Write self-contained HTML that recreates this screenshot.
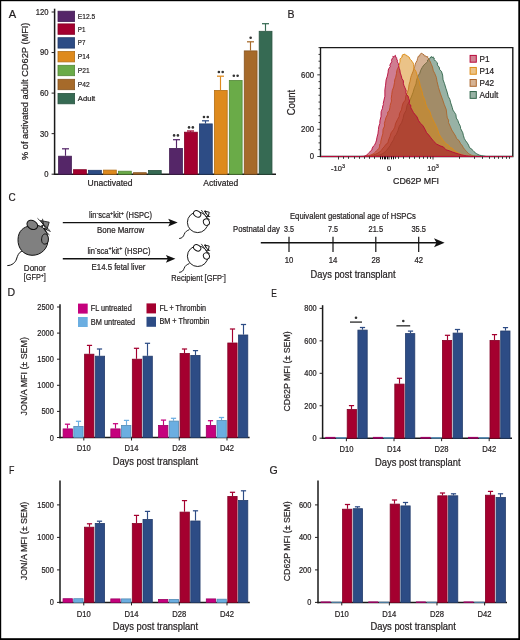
<!DOCTYPE html><html><head><meta charset="utf-8"><style>html,body{margin:0;padding:0;background:#fff;}svg{display:block;}</style></head><body>
<svg width="520" height="640" viewBox="0 0 520 640" font-family='"Liberation Sans", sans-serif' style="filter:grayscale(1%)">
<rect width="520" height="640" fill="#fff"/>
<g>
<text x="8.70" y="17.60" font-size="11.2" text-anchor="start" fill="#231f20" stroke="#231f20" stroke-width="0.22" textLength="7.40" lengthAdjust="spacingAndGlyphs" >A</text>
<line x1="54.60" y1="8.70" x2="54.60" y2="174.95" stroke="#1a1a1a" stroke-width="1.5" />
<line x1="53.85" y1="174.20" x2="276.00" y2="174.20" stroke="#1a1a1a" stroke-width="1.5" />
<line x1="51.60" y1="174.20" x2="54.60" y2="174.20" stroke="#231f20" stroke-width="1.0" />
<text x="48.50" y="177.10" font-size="8.6" text-anchor="end" fill="#231f20" stroke="#231f20" stroke-width="0.22" textLength="4.25" lengthAdjust="spacingAndGlyphs" >0</text>
<line x1="51.60" y1="133.65" x2="54.60" y2="133.65" stroke="#231f20" stroke-width="1.0" />
<text x="48.50" y="136.55" font-size="8.6" text-anchor="end" fill="#231f20" stroke="#231f20" stroke-width="0.22" textLength="8.50" lengthAdjust="spacingAndGlyphs" >30</text>
<line x1="51.60" y1="93.10" x2="54.60" y2="93.10" stroke="#231f20" stroke-width="1.0" />
<text x="48.50" y="96.00" font-size="8.6" text-anchor="end" fill="#231f20" stroke="#231f20" stroke-width="0.22" textLength="8.50" lengthAdjust="spacingAndGlyphs" >60</text>
<line x1="51.60" y1="52.55" x2="54.60" y2="52.55" stroke="#231f20" stroke-width="1.0" />
<text x="48.50" y="55.45" font-size="8.6" text-anchor="end" fill="#231f20" stroke="#231f20" stroke-width="0.22" textLength="8.50" lengthAdjust="spacingAndGlyphs" >90</text>
<line x1="51.60" y1="12.00" x2="54.60" y2="12.00" stroke="#231f20" stroke-width="1.0" />
<text x="48.50" y="14.90" font-size="8.6" text-anchor="end" fill="#231f20" stroke="#231f20" stroke-width="0.22" textLength="12.75" lengthAdjust="spacingAndGlyphs" >120</text>
<text x="28.00" y="91.30" font-size="9" text-anchor="middle" fill="#231f20" stroke="#231f20" stroke-width="0.22" textLength="137.50" lengthAdjust="spacingAndGlyphs" transform="rotate(-90 28.00 91.30)" >% of activated adult CD62P (MFI)</text>
<rect x="58.00" y="11.20" width="16.60" height="10.40" fill="#552669" stroke="#441e54" stroke-width="0.8"/>
<text x="77.80" y="18.80" font-size="8.0" text-anchor="start" fill="#231f20" stroke="#231f20" stroke-width="0.22" textLength="17.40" lengthAdjust="spacingAndGlyphs" >E12.5</text>
<rect x="58.00" y="23.90" width="16.60" height="10.40" fill="#a5002f" stroke="#840025" stroke-width="0.8"/>
<text x="77.80" y="31.50" font-size="8.0" text-anchor="start" fill="#231f20" stroke="#231f20" stroke-width="0.22" textLength="7.60" lengthAdjust="spacingAndGlyphs" >P1</text>
<rect x="58.00" y="37.70" width="16.60" height="10.40" fill="#2d4c86" stroke="#243c6b" stroke-width="0.8"/>
<text x="77.80" y="45.30" font-size="8.0" text-anchor="start" fill="#231f20" stroke="#231f20" stroke-width="0.22" textLength="7.60" lengthAdjust="spacingAndGlyphs" >P7</text>
<rect x="58.00" y="51.50" width="16.60" height="10.40" fill="#df8a1c" stroke="#b26e16" stroke-width="0.8"/>
<text x="77.80" y="59.10" font-size="8.0" text-anchor="start" fill="#231f20" stroke="#231f20" stroke-width="0.22" textLength="11.80" lengthAdjust="spacingAndGlyphs" >P14</text>
<rect x="58.00" y="65.30" width="16.60" height="10.40" fill="#6aab47" stroke="#548838" stroke-width="0.8"/>
<text x="77.80" y="72.90" font-size="8.0" text-anchor="start" fill="#231f20" stroke="#231f20" stroke-width="0.22" textLength="11.80" lengthAdjust="spacingAndGlyphs" >P21</text>
<rect x="58.00" y="79.30" width="16.60" height="10.40" fill="#a76a29" stroke="#855420" stroke-width="0.8"/>
<text x="77.80" y="86.90" font-size="8.0" text-anchor="start" fill="#231f20" stroke="#231f20" stroke-width="0.22" textLength="11.80" lengthAdjust="spacingAndGlyphs" >P42</text>
<rect x="58.00" y="93.40" width="16.60" height="10.40" fill="#366a53" stroke="#2b5442" stroke-width="0.8"/>
<text x="77.80" y="101.00" font-size="8.0" text-anchor="start" fill="#231f20" stroke="#231f20" stroke-width="0.22" textLength="17.40" lengthAdjust="spacingAndGlyphs" >Adult</text>
<line x1="65.50" y1="155.80" x2="65.50" y2="148.80" stroke="#552669" stroke-width="1.15" />
<line x1="62.00" y1="148.80" x2="69.00" y2="148.80" stroke="#552669" stroke-width="1.25" />
<rect x="58.60" y="156.20" width="12.80" height="18.00" fill="#552669" stroke="#441e54" stroke-width="0.8"/>
<rect x="73.57" y="169.70" width="12.80" height="4.50" fill="#a5002f" stroke="#840025" stroke-width="0.8"/>
<rect x="88.54" y="170.30" width="12.80" height="3.90" fill="#2d4c86" stroke="#243c6b" stroke-width="0.8"/>
<rect x="103.51" y="170.10" width="12.80" height="4.10" fill="#df8a1c" stroke="#b26e16" stroke-width="0.8"/>
<rect x="118.48" y="171.20" width="12.80" height="3.00" fill="#6aab47" stroke="#548838" stroke-width="0.8"/>
<rect x="133.45" y="172.70" width="12.80" height="1.50" fill="#a76a29" stroke="#855420" stroke-width="0.8"/>
<rect x="148.42" y="170.40" width="12.80" height="3.80" fill="#366a53" stroke="#2b5442" stroke-width="0.8"/>
<line x1="176.50" y1="148.00" x2="176.50" y2="139.70" stroke="#552669" stroke-width="1.15" />
<line x1="173.00" y1="139.70" x2="180.00" y2="139.70" stroke="#552669" stroke-width="1.25" />
<rect x="169.60" y="148.40" width="12.80" height="25.80" fill="#552669" stroke="#441e54" stroke-width="0.8"/>
<circle cx="174.10" cy="135.40" r="1.3" fill="#333"/>
<circle cx="177.90" cy="135.40" r="1.3" fill="#333"/>
<line x1="190.50" y1="131.80" x2="190.50" y2="131.00" stroke="#a5002f" stroke-width="1.15" />
<line x1="187.00" y1="131.00" x2="194.00" y2="131.00" stroke="#a5002f" stroke-width="1.25" />
<rect x="184.53" y="132.20" width="12.80" height="42.00" fill="#a5002f" stroke="#840025" stroke-width="0.8"/>
<circle cx="189.03" cy="127.40" r="1.3" fill="#333"/>
<circle cx="192.83" cy="127.40" r="1.3" fill="#333"/>
<line x1="205.50" y1="123.50" x2="205.50" y2="120.80" stroke="#2d4c86" stroke-width="1.15" />
<line x1="202.00" y1="120.80" x2="209.00" y2="120.80" stroke="#2d4c86" stroke-width="1.25" />
<rect x="199.46" y="123.90" width="12.80" height="50.30" fill="#2d4c86" stroke="#243c6b" stroke-width="0.8"/>
<circle cx="203.96" cy="117.00" r="1.3" fill="#333"/>
<circle cx="207.76" cy="117.00" r="1.3" fill="#333"/>
<line x1="220.50" y1="90.00" x2="220.50" y2="76.20" stroke="#df8a1c" stroke-width="1.15" />
<line x1="217.00" y1="76.20" x2="224.00" y2="76.20" stroke="#df8a1c" stroke-width="1.25" />
<rect x="214.39" y="90.40" width="12.80" height="83.80" fill="#df8a1c" stroke="#b26e16" stroke-width="0.8"/>
<circle cx="218.89" cy="72.00" r="1.3" fill="#333"/>
<circle cx="222.69" cy="72.00" r="1.3" fill="#333"/>
<rect x="229.32" y="80.40" width="12.80" height="93.80" fill="#6aab47" stroke="#548838" stroke-width="0.8"/>
<circle cx="233.82" cy="75.70" r="1.3" fill="#333"/>
<circle cx="237.62" cy="75.70" r="1.3" fill="#333"/>
<line x1="250.50" y1="50.50" x2="250.50" y2="41.80" stroke="#a76a29" stroke-width="1.15" />
<line x1="247.00" y1="41.80" x2="254.00" y2="41.80" stroke="#a76a29" stroke-width="1.25" />
<rect x="244.25" y="50.90" width="12.80" height="123.30" fill="#a76a29" stroke="#855420" stroke-width="0.8"/>
<circle cx="250.65" cy="37.80" r="1.3" fill="#333"/>
<line x1="265.50" y1="30.90" x2="265.50" y2="23.70" stroke="#366a53" stroke-width="1.15" />
<line x1="262.00" y1="23.70" x2="269.00" y2="23.70" stroke="#366a53" stroke-width="1.25" />
<rect x="259.18" y="31.30" width="12.80" height="142.90" fill="#366a53" stroke="#2b5442" stroke-width="0.8"/>
<text x="110.00" y="185.50" font-size="8.8" text-anchor="middle" fill="#231f20" stroke="#231f20" stroke-width="0.22" textLength="45.00" lengthAdjust="spacingAndGlyphs" >Unactivated</text>
<text x="220.80" y="185.50" font-size="8.8" text-anchor="middle" fill="#231f20" stroke="#231f20" stroke-width="0.22" textLength="35.00" lengthAdjust="spacingAndGlyphs" >Activated</text>
<text x="287.40" y="17.80" font-size="11.2" text-anchor="start" fill="#231f20" stroke="#231f20" stroke-width="0.22" textLength="7.00" lengthAdjust="spacingAndGlyphs" >B</text>
<path d="M320.5,47.6 H512.8 V156.5 H320.5 Z" fill="none" stroke="#1a1a1a" stroke-width="1.4"/>
<path d="M321.1,156.5 L372.00,156.50 L373.39,156.25 L375.38,155.94 L377.66,155.52 L379.97,154.89 L382.00,154.00 L383.73,152.88 L385.34,151.58 L386.90,150.04 L388.49,147.81 L390.12,145.80 L391.08,143.56 L393.60,139.64 L394.48,136.71 L396.36,134.33 L397.97,130.50 L399.18,126.50 L401.64,122.59 L403.09,118.37 L403.88,114.45 L406.11,110.39 L407.05,105.37 L409.22,101.70 L411.33,96.94 L412.97,92.50 L414.36,87.84 L416.00,83.92 L416.44,80.65 L417.98,75.81 L419.60,73.66 L420.76,70.19 L422.16,67.55 L423.67,65.29 L425.28,63.93 L426.46,62.61 L427.59,61.53 L427.54,60.05 L429.35,59.32 L429.65,58.57 L429.95,57.69 L431.09,57.50 L431.14,56.58 L432.86,57.59 L433.21,56.80 L433.00,57.79 L434.32,58.19 L434.04,59.70 L434.61,60.04 L435.53,61.06 L436.91,62.34 L437.60,63.01 L437.20,64.05 L437.87,65.90 L439.10,66.94 L439.64,69.59 L441.44,71.31 L442.61,75.05 L443.09,79.90 L444.49,83.56 L445.85,88.17 L447.14,92.09 L448.29,96.47 L449.88,99.48 L450.71,102.86 L452.28,107.47 L452.91,110.07 L454.76,112.75 L455.91,114.72 L456.31,118.06 L457.87,120.51 L458.82,123.27 L460.38,126.33 L460.64,128.54 L462.82,132.80 L463.34,135.31 L464.38,138.64 L465.68,140.80 L467.40,143.10 L468.56,145.10 L469.56,147.71 L471.78,149.10 L472.80,150.48 L474.06,151.73 L475.31,152.79 L476.61,153.70 L478.00,154.50 L479.63,155.16 L481.48,155.65 L483.30,156.01 L484.89,156.28 L486.00,156.50 L512.1999999999999,156.5 Z" fill="#31654b" fill-opacity="0.5" stroke="#31654b" stroke-width="0.9" stroke-linejoin="round"/>
<path d="M321.1,156.5 L368.00,156.50 L369.39,156.10 L371.38,155.57 L373.66,154.89 L375.97,154.04 L378.00,153.00 L379.74,151.80 L381.39,150.46 L382.49,148.52 L384.08,146.96 L385.88,144.35 L387.82,143.11 L388.54,140.00 L389.98,136.54 L391.14,132.75 L393.51,129.57 L394.78,127.22 L395.48,123.79 L397.42,119.61 L399.09,116.78 L399.50,113.57 L401.49,109.77 L402.13,106.26 L403.23,102.83 L405.32,100.12 L405.76,96.07 L407.17,92.98 L408.54,89.16 L409.02,84.83 L410.00,81.38 L410.77,77.49 L411.33,75.62 L412.87,71.90 L413.56,69.89 L414.09,68.00 L414.63,66.75 L415.30,63.95 L415.97,62.53 L417.10,60.52 L417.45,59.02 L417.52,58.61 L418.36,56.16 L419.54,56.14 L419.94,54.44 L420.83,53.69 L421.84,53.11 L422.84,54.43 L423.55,54.60 L423.43,54.13 L424.68,56.19 L425.53,55.87 L425.99,56.46 L425.81,56.14 L426.31,56.56 L427.90,56.83 L427.41,57.45 L428.32,57.96 L429.32,60.18 L429.80,60.80 L431.03,63.55 L431.47,64.56 L432.48,66.94 L433.33,70.84 L434.67,73.25 L436.34,77.36 L437.04,81.43 L438.50,87.55 L440.49,93.86 L442.39,98.96 L444.24,104.49 L446.27,109.62 L446.72,114.02 L446.96,115.46 L447.29,117.95 L448.59,120.08 L448.46,122.46 L450.38,126.66 L451.76,130.00 L453.78,133.14 L455.64,136.12 L456.51,138.49 L459.03,140.57 L460.68,143.90 L461.93,145.15 L463.40,147.75 L464.63,149.47 L465.78,150.48 L466.79,151.73 L467.76,152.79 L468.79,153.70 L470.00,154.50 L471.56,155.16 L473.40,155.65 L475.25,156.01 L476.87,156.28 L478.00,156.50 L512.1999999999999,156.5 Z" fill="#ac662b" fill-opacity="0.5" stroke="#ac662b" stroke-width="0.9" stroke-linejoin="round"/>
<path d="M321.1,156.5 L364.00,156.50 L365.13,156.27 L366.75,155.98 L368.61,155.60 L370.44,155.12 L372.00,154.50 L373.25,153.77 L374.38,152.96 L375.40,152.01 L376.37,150.90 L377.59,149.78 L378.72,148.61 L379.52,146.98 L379.76,144.17 L380.73,143.50 L380.84,141.00 L381.72,137.33 L382.80,133.88 L383.05,129.31 L384.58,126.00 L384.39,123.40 L385.16,120.55 L385.98,117.61 L387.72,114.17 L387.73,112.03 L389.25,110.72 L389.96,107.32 L390.15,105.47 L390.95,102.74 L391.49,101.05 L391.26,98.59 L391.74,94.52 L392.31,90.54 L393.66,86.95 L394.48,82.73 L394.77,79.76 L395.74,77.24 L396.53,73.34 L396.81,70.94 L397.53,68.58 L399.21,65.77 L399.77,62.50 L400.09,61.10 L399.98,58.89 L401.57,57.72 L401.81,56.54 L402.45,56.72 L402.10,55.19 L402.96,55.04 L403.31,54.15 L403.93,55.05 L404.64,53.92 L404.61,54.20 L406.04,55.31 L406.79,55.32 L406.77,56.07 L407.30,56.17 L407.96,56.29 L409.66,57.76 L409.20,57.65 L410.44,59.73 L410.69,59.76 L411.94,60.97 L412.01,61.88 L413.23,62.75 L413.49,64.70 L413.98,68.49 L415.99,71.39 L416.92,74.68 L417.69,77.58 L419.41,81.47 L420.22,85.79 L422.04,91.30 L422.96,95.87 L424.75,99.69 L425.75,103.97 L427.22,107.90 L429.99,111.80 L431.36,116.49 L432.77,119.47 L434.33,122.38 L436.47,126.83 L437.64,129.48 L438.77,133.24 L440.21,136.02 L441.75,138.30 L443.42,140.67 L445.85,143.70 L448.44,145.09 L450.28,147.52 L452.36,148.27 L454.25,150.48 L456.13,151.73 L457.95,152.79 L459.73,153.70 L461.50,154.50 L463.38,155.16 L465.36,155.65 L467.25,156.01 L468.86,156.28 L470.00,156.50 L512.1999999999999,156.5 Z" fill="#d7870f" fill-opacity="0.5" stroke="#de8c14" stroke-width="0.9" stroke-linejoin="round"/>
<path d="M321.1,156.5 L361.00,156.50 L361.67,156.44 L362.62,156.41 L363.72,156.30 L364.89,156.03 L366.00,155.50 L367.08,154.69 L368.20,153.65 L369.33,152.43 L370.44,151.07 L371.89,150.04 L372.23,148.08 L373.70,145.80 L374.76,144.78 L375.68,142.63 L376.56,140.06 L376.88,137.72 L377.92,133.88 L378.45,129.58 L378.73,126.79 L379.82,123.46 L379.94,120.59 L380.98,116.73 L381.00,115.23 L381.13,111.73 L381.65,110.20 L382.37,108.72 L382.76,106.03 L383.39,104.68 L383.25,103.49 L383.94,100.22 L384.88,96.27 L384.87,89.89 L385.57,85.18 L386.09,79.94 L387.33,76.17 L388.16,72.03 L388.26,70.08 L388.82,68.57 L390.29,66.60 L389.82,65.70 L390.31,64.08 L391.80,61.76 L391.48,60.66 L391.97,58.94 L393.10,57.44 L392.81,56.43 L393.18,56.76 L393.40,56.59 L394.57,56.26 L394.97,55.66 L395.31,55.37 L395.34,56.14 L395.98,56.09 L395.64,56.60 L396.22,57.87 L397.14,58.38 L396.47,58.96 L397.39,60.12 L397.29,61.91 L398.51,63.73 L398.45,65.43 L399.35,68.66 L399.90,70.22 L400.25,73.08 L401.17,75.42 L401.90,78.52 L403.40,80.82 L403.42,83.75 L404.07,85.75 L404.99,87.85 L406.21,90.73 L405.77,92.19 L406.50,94.59 L408.04,96.12 L408.66,98.42 L409.55,100.96 L409.05,103.83 L410.71,104.99 L410.85,107.84 L412.38,110.42 L413.37,112.42 L414.92,114.34 L417.09,116.99 L418.45,120.37 L420.32,123.19 L422.81,125.42 L424.94,129.19 L426.61,132.72 L428.85,135.11 L430.94,137.88 L433.99,141.65 L436.43,143.96 L440.00,145.81 L443.39,146.92 L445.93,149.81 L449.16,150.71 L452.42,151.99 L455.65,153.09 L458.72,154.01 L461.50,154.80 L464.09,155.42 L466.56,155.84 L468.80,156.13 L470.65,156.33 L472.00,156.50 L512.1999999999999,156.5 Z" fill="#a4062c" fill-opacity="0.52" stroke="#b8083a" stroke-width="0.9" stroke-linejoin="round"/>
<line x1="317.30" y1="156.50" x2="320.50" y2="156.50" stroke="#222" stroke-width="0.9" />
<line x1="318.50" y1="149.69" x2="320.50" y2="149.69" stroke="#222" stroke-width="0.9" />
<line x1="318.50" y1="142.89" x2="320.50" y2="142.89" stroke="#222" stroke-width="0.9" />
<line x1="318.50" y1="136.08" x2="320.50" y2="136.08" stroke="#222" stroke-width="0.9" />
<line x1="317.30" y1="129.28" x2="320.50" y2="129.28" stroke="#222" stroke-width="0.9" />
<line x1="318.50" y1="122.47" x2="320.50" y2="122.47" stroke="#222" stroke-width="0.9" />
<line x1="318.50" y1="115.66" x2="320.50" y2="115.66" stroke="#222" stroke-width="0.9" />
<line x1="318.50" y1="108.86" x2="320.50" y2="108.86" stroke="#222" stroke-width="0.9" />
<line x1="318.50" y1="102.05" x2="320.50" y2="102.05" stroke="#222" stroke-width="0.9" />
<line x1="318.50" y1="95.24" x2="320.50" y2="95.24" stroke="#222" stroke-width="0.9" />
<line x1="318.50" y1="88.44" x2="320.50" y2="88.44" stroke="#222" stroke-width="0.9" />
<line x1="318.50" y1="81.63" x2="320.50" y2="81.63" stroke="#222" stroke-width="0.9" />
<line x1="317.30" y1="74.83" x2="320.50" y2="74.83" stroke="#222" stroke-width="0.9" />
<line x1="318.50" y1="68.02" x2="320.50" y2="68.02" stroke="#222" stroke-width="0.9" />
<line x1="318.50" y1="61.21" x2="320.50" y2="61.21" stroke="#222" stroke-width="0.9" />
<line x1="318.50" y1="54.41" x2="320.50" y2="54.41" stroke="#222" stroke-width="0.9" />
<line x1="318.50" y1="47.60" x2="320.50" y2="47.60" stroke="#222" stroke-width="0.9" />
<text x="314.00" y="159.40" font-size="8.2" text-anchor="end" fill="#231f20" stroke="#231f20" stroke-width="0.22" textLength="4.30" lengthAdjust="spacingAndGlyphs" >0</text>
<text x="314.00" y="132.18" font-size="8.2" text-anchor="end" fill="#231f20" stroke="#231f20" stroke-width="0.22" textLength="12.90" lengthAdjust="spacingAndGlyphs" >200</text>
<text x="314.00" y="77.73" font-size="8.2" text-anchor="end" fill="#231f20" stroke="#231f20" stroke-width="0.22" textLength="12.90" lengthAdjust="spacingAndGlyphs" >600</text>
<text x="294.90" y="102.50" font-size="10.4" text-anchor="middle" fill="#231f20" stroke="#231f20" stroke-width="0.22" textLength="25.60" lengthAdjust="spacingAndGlyphs" transform="rotate(-90 294.90 102.50)" >Count</text>
<line x1="338.50" y1="156.50" x2="338.50" y2="159.50" stroke="#231f20" stroke-width="0.9" />
<line x1="389.00" y1="156.50" x2="389.00" y2="159.50" stroke="#231f20" stroke-width="0.9" />
<line x1="433.00" y1="156.50" x2="433.00" y2="159.50" stroke="#231f20" stroke-width="0.9" />
<line x1="343.50" y1="156.50" x2="343.50" y2="158.80" stroke="#333" stroke-width="1.0" />
<line x1="348.50" y1="156.50" x2="348.50" y2="158.80" stroke="#333" stroke-width="1.0" />
<line x1="354.50" y1="156.50" x2="354.50" y2="158.80" stroke="#333" stroke-width="1.0" />
<line x1="359.50" y1="156.50" x2="359.50" y2="158.80" stroke="#333" stroke-width="1.0" />
<line x1="364.50" y1="156.50" x2="364.50" y2="158.80" stroke="#333" stroke-width="1.0" />
<line x1="369.50" y1="156.50" x2="369.50" y2="158.80" stroke="#333" stroke-width="1.0" />
<line x1="374.50" y1="156.50" x2="374.50" y2="158.80" stroke="#333" stroke-width="1.0" />
<line x1="380.50" y1="156.50" x2="380.50" y2="159.30" stroke="#111" stroke-width="1.0" />
<line x1="382.50" y1="156.50" x2="382.50" y2="159.30" stroke="#111" stroke-width="1.0" />
<line x1="384.50" y1="156.50" x2="384.50" y2="159.30" stroke="#111" stroke-width="1.0" />
<line x1="385.50" y1="156.50" x2="385.50" y2="159.30" stroke="#111" stroke-width="1.0" />
<line x1="387.50" y1="156.50" x2="387.50" y2="159.30" stroke="#111" stroke-width="1.0" />
<line x1="391.50" y1="156.50" x2="391.50" y2="159.30" stroke="#111" stroke-width="1.0" />
<line x1="393.50" y1="156.50" x2="393.50" y2="159.30" stroke="#111" stroke-width="1.0" />
<line x1="395.50" y1="156.50" x2="395.50" y2="158.80" stroke="#333" stroke-width="1.0" />
<line x1="398.50" y1="156.50" x2="398.50" y2="158.80" stroke="#333" stroke-width="1.0" />
<line x1="403.50" y1="156.50" x2="403.50" y2="158.80" stroke="#333" stroke-width="1.0" />
<line x1="409.50" y1="156.50" x2="409.50" y2="158.80" stroke="#333" stroke-width="1.0" />
<line x1="414.50" y1="156.50" x2="414.50" y2="158.80" stroke="#333" stroke-width="1.0" />
<line x1="419.50" y1="156.50" x2="419.50" y2="158.80" stroke="#333" stroke-width="1.0" />
<line x1="423.50" y1="156.50" x2="423.50" y2="158.80" stroke="#333" stroke-width="1.0" />
<line x1="427.50" y1="156.50" x2="427.50" y2="158.80" stroke="#333" stroke-width="1.0" />
<line x1="430.50" y1="156.50" x2="430.50" y2="158.80" stroke="#333" stroke-width="1.0" />
<line x1="459.50" y1="156.50" x2="459.50" y2="158.80" stroke="#333" stroke-width="1.0" />
<line x1="474.50" y1="156.50" x2="474.50" y2="158.80" stroke="#333" stroke-width="1.0" />
<line x1="482.50" y1="156.50" x2="482.50" y2="158.80" stroke="#333" stroke-width="1.0" />
<line x1="489.50" y1="156.50" x2="489.50" y2="158.80" stroke="#333" stroke-width="1.0" />
<line x1="494.50" y1="156.50" x2="494.50" y2="158.80" stroke="#333" stroke-width="1.0" />
<line x1="498.50" y1="156.50" x2="498.50" y2="158.80" stroke="#333" stroke-width="1.0" />
<line x1="502.50" y1="156.50" x2="502.50" y2="158.80" stroke="#333" stroke-width="1.0" />
<line x1="506.50" y1="156.50" x2="506.50" y2="158.80" stroke="#333" stroke-width="1.0" />
<line x1="509.50" y1="156.50" x2="509.50" y2="158.80" stroke="#333" stroke-width="1.0" />
<text x="338.00" y="171.00" font-size="7.5" text-anchor="middle" fill="#231f20" stroke="#231f20" stroke-width="0.22" >-10<tspan font-size="5.5" dy="-3">3</tspan></text>
<text x="389.00" y="171.00" font-size="7.5" text-anchor="middle" fill="#231f20" stroke="#231f20" stroke-width="0.22" >0</text>
<text x="433.00" y="171.00" font-size="7.5" text-anchor="middle" fill="#231f20" stroke="#231f20" stroke-width="0.22" >10<tspan font-size="5.5" dy="-3">3</tspan></text>
<text x="416.00" y="184.20" font-size="8.6" text-anchor="middle" fill="#231f20" stroke="#231f20" stroke-width="0.22" textLength="46.00" lengthAdjust="spacingAndGlyphs" >CD62P MFI</text>
<rect x="470.10" y="55.40" width="6.20" height="6.80" fill="#d28292" stroke="#b8083a" stroke-width="1.0"/>
<text x="479.60" y="61.80" font-size="8.2" text-anchor="start" fill="#231f20" stroke="#231f20" stroke-width="0.22" >P1</text>
<rect x="470.10" y="67.45" width="6.20" height="6.80" fill="#ebc387" stroke="#de8c14" stroke-width="1.0"/>
<text x="479.60" y="73.85" font-size="8.2" text-anchor="start" fill="#231f20" stroke="#231f20" stroke-width="0.22" >P14</text>
<rect x="470.10" y="79.50" width="6.20" height="6.80" fill="#d5b395" stroke="#ac662b" stroke-width="1.0"/>
<text x="479.60" y="85.90" font-size="8.2" text-anchor="start" fill="#231f20" stroke="#231f20" stroke-width="0.22" >P42</text>
<rect x="470.10" y="91.55" width="6.20" height="6.80" fill="#98b2a5" stroke="#31654b" stroke-width="1.0"/>
<text x="479.60" y="97.95" font-size="8.2" text-anchor="start" fill="#231f20" stroke="#231f20" stroke-width="0.22" >Adult</text>
<text x="8.50" y="200.60" font-size="11.2" text-anchor="start" fill="#231f20" stroke="#231f20" stroke-width="0.22" textLength="7.20" lengthAdjust="spacingAndGlyphs" >C</text>
<g transform="translate(0,0)" stroke="#111" stroke-width="1.0" stroke-linejoin="round"><path d="M22,251 C18.5,252.5 17.5,256 16.5,259 C15.5,262.5 12,265.5 7.3,265.6" fill="none"/><path d="M31,225.5 C40,223.5 47.5,229 48,238 C48.8,248.5 41,255.5 32,255.3 C23,255 17.8,248 18,239.5 C18.3,231 23,227 31,225.5 Z" fill="#808080"/><ellipse cx="32.3" cy="224.9" rx="5.6" ry="4.3" transform="rotate(28 32.3 224.9)" fill="#808080"/><path d="M45.5,234 C48.5,235 49.2,240 47.5,242.5 C45.8,245 42.5,244.5 41.8,241.5 C41,238 42.5,233.5 45.5,234 Z" fill="#808080"/><path d="M40.5,220.5 L49.2,222.2 L46.8,230 Z" fill="#808080" stroke-width="0.8"/><path d="M37.5,218.3 L50.3,231 M42.5,218.8 L43.8,226 M43.5,228.5 L50.5,231.5 M44.5,230.5 L49.5,235" fill="none" stroke-width="0.8"/><circle cx="42.2" cy="226.1" r="1.0" fill="#111" stroke="none"/><circle cx="44.6" cy="228.9" r="1.0" fill="#111" stroke="none"/></g>
<text x="34.80" y="270.50" font-size="8.6" text-anchor="middle" fill="#231f20" stroke="#231f20" stroke-width="0.22" textLength="22.00" lengthAdjust="spacingAndGlyphs" >Donor</text>
<text x="34.80" y="280.30" font-size="8.6" text-anchor="middle" fill="#231f20" stroke="#231f20" stroke-width="0.22" textLength="22.20" lengthAdjust="spacingAndGlyphs" >[GFP<tspan font-size="6" dy="-3.2">+</tspan><tspan dy="3.2">]</tspan></text>
<line x1="62.80" y1="222.60" x2="171.70" y2="222.60" stroke="#111" stroke-width="1.4" />
<path d="M168.2,218.7 L177.7,222.6 L168.2,226.5 L170.2,222.6 Z" fill="#111"/>
<line x1="62.80" y1="258.80" x2="169.40" y2="258.80" stroke="#111" stroke-width="1.4" />
<path d="M165.9,254.9 L175.4,258.8 L165.9,262.7 L167.9,258.8 Z" fill="#111"/>
<text x="120.50" y="218.20" font-size="8.4" text-anchor="middle" fill="#231f20" stroke="#231f20" stroke-width="0.22" textLength="63.00" lengthAdjust="spacingAndGlyphs" >lin<tspan font-size="6" dy="-3.2">-</tspan><tspan dy="3.2">sca</tspan><tspan font-size="6" dy="-3.2">+</tspan><tspan dy="3.2">kit</tspan><tspan font-size="6" dy="-3.2">+</tspan><tspan dy="3.2"> (HSPC)</tspan></text>
<text x="120.60" y="233.40" font-size="8.6" text-anchor="middle" fill="#231f20" stroke="#231f20" stroke-width="0.22" textLength="47.00" lengthAdjust="spacingAndGlyphs" >Bone Marrow</text>
<text x="118.90" y="253.50" font-size="8.4" text-anchor="middle" fill="#231f20" stroke="#231f20" stroke-width="0.22" textLength="63.00" lengthAdjust="spacingAndGlyphs" >lin<tspan font-size="6" dy="-3.2">-</tspan><tspan dy="3.2">sca</tspan><tspan font-size="6" dy="-3.2">+</tspan><tspan dy="3.2">kit</tspan><tspan font-size="6" dy="-3.2">+</tspan><tspan dy="3.2"> (HSPC)</tspan></text>
<text x="118.50" y="269.50" font-size="8.6" text-anchor="middle" fill="#231f20" stroke="#231f20" stroke-width="0.22" textLength="53.80" lengthAdjust="spacingAndGlyphs" >E14.5 fetal liver</text>
<g transform="translate(197.7,222.3)" stroke="#111" stroke-width="0.95" fill="#fff" stroke-linejoin="round"><path d="M-8.3,7.3 C-10.5,8.3 -12.6,9.3 -13.5,12 C-14.3,14.3 -15.6,16 -18.5,16.2" fill="none"/><circle cx="0" cy="0" r="10.3"/><ellipse cx="-0.5" cy="-8.4" rx="3.9" ry="2.9" transform="rotate(32 -0.5 -8.4)"/><path d="M6.7,-11.2 L11.5,-10.1 L10.6,-5.8 Z"/><ellipse cx="8.7" cy="-0.2" rx="3.0" ry="3.3" transform="rotate(-20 8.7 -0.2)"/><path d="M3.6,-12.3 L6.9,-7.7 M7.6,-11.8 L8.4,-8.2 M7.8,-5.8 L12.5,-5.8 M8.9,-4.8 L12,-2.6" fill="none" stroke-width="0.8"/></g>
<g transform="translate(197.7,256.2)" stroke="#111" stroke-width="0.95" fill="#fff" stroke-linejoin="round"><path d="M-8.3,7.3 C-10.5,8.3 -12.6,9.3 -13.5,12 C-14.3,14.3 -15.6,16 -18.5,16.2" fill="none"/><circle cx="0" cy="0" r="10.3"/><ellipse cx="-0.5" cy="-8.4" rx="3.9" ry="2.9" transform="rotate(32 -0.5 -8.4)"/><path d="M6.7,-11.2 L11.5,-10.1 L10.6,-5.8 Z"/><ellipse cx="8.7" cy="-0.2" rx="3.0" ry="3.3" transform="rotate(-20 8.7 -0.2)"/><path d="M3.6,-12.3 L6.9,-7.7 M7.6,-11.8 L8.4,-8.2 M7.8,-5.8 L12.5,-5.8 M8.9,-4.8 L12,-2.6" fill="none" stroke-width="0.8"/></g>
<text x="198.60" y="280.80" font-size="8.6" text-anchor="middle" fill="#231f20" stroke="#231f20" stroke-width="0.22" textLength="54.50" lengthAdjust="spacingAndGlyphs" >Recipient [GFP<tspan font-size="6" dy="-3.2">-</tspan><tspan dy="3.2">]</tspan></text>
<text x="233.00" y="232.30" font-size="8.4" text-anchor="start" fill="#231f20" stroke="#231f20" stroke-width="0.22" textLength="46.80" lengthAdjust="spacingAndGlyphs" >Postnatal day</text>
<text x="352.90" y="219.20" font-size="8.4" text-anchor="middle" fill="#231f20" stroke="#231f20" stroke-width="0.22" textLength="125.80" lengthAdjust="spacingAndGlyphs" >Equivalent gestational age of HSPCs</text>
<line x1="260.80" y1="242.80" x2="437.00" y2="242.80" stroke="#111" stroke-width="1.4" />
<path d="M434,238.3 L444.6,242.8 L434,247.3 L436.5,242.8 Z" fill="#111"/>
<line x1="289.00" y1="236.80" x2="289.00" y2="252.00" stroke="#111" stroke-width="1.2" />
<text x="289.00" y="231.80" font-size="8.2" text-anchor="middle" fill="#231f20" stroke="#231f20" stroke-width="0.22" textLength="10.00" lengthAdjust="spacingAndGlyphs" >3.5</text>
<text x="289.00" y="263.20" font-size="8.2" text-anchor="middle" fill="#231f20" stroke="#231f20" stroke-width="0.22" textLength="8.60" lengthAdjust="spacingAndGlyphs" >10</text>
<line x1="333.00" y1="236.80" x2="333.00" y2="252.00" stroke="#111" stroke-width="1.2" />
<text x="333.00" y="231.80" font-size="8.2" text-anchor="middle" fill="#231f20" stroke="#231f20" stroke-width="0.22" textLength="10.00" lengthAdjust="spacingAndGlyphs" >7.5</text>
<text x="333.00" y="263.20" font-size="8.2" text-anchor="middle" fill="#231f20" stroke="#231f20" stroke-width="0.22" textLength="8.60" lengthAdjust="spacingAndGlyphs" >14</text>
<line x1="375.80" y1="236.80" x2="375.80" y2="252.00" stroke="#111" stroke-width="1.2" />
<text x="375.80" y="231.80" font-size="8.2" text-anchor="middle" fill="#231f20" stroke="#231f20" stroke-width="0.22" textLength="14.50" lengthAdjust="spacingAndGlyphs" >21.5</text>
<text x="375.80" y="263.20" font-size="8.2" text-anchor="middle" fill="#231f20" stroke="#231f20" stroke-width="0.22" textLength="8.60" lengthAdjust="spacingAndGlyphs" >28</text>
<line x1="418.70" y1="236.80" x2="418.70" y2="252.00" stroke="#111" stroke-width="1.2" />
<text x="418.70" y="231.80" font-size="8.2" text-anchor="middle" fill="#231f20" stroke="#231f20" stroke-width="0.22" textLength="14.50" lengthAdjust="spacingAndGlyphs" >35.5</text>
<text x="418.70" y="263.20" font-size="8.2" text-anchor="middle" fill="#231f20" stroke="#231f20" stroke-width="0.22" textLength="8.60" lengthAdjust="spacingAndGlyphs" >42</text>
<text x="353.10" y="277.50" font-size="10" text-anchor="middle" fill="#231f20" stroke="#231f20" stroke-width="0.22" textLength="85.00" lengthAdjust="spacingAndGlyphs" >Days post transplant</text>
<text x="7.60" y="296.00" font-size="11.2" text-anchor="start" fill="#231f20" stroke="#231f20" stroke-width="0.22" textLength="7.60" lengthAdjust="spacingAndGlyphs" >D</text>
<line x1="60.00" y1="304.30" x2="60.00" y2="438.25" stroke="#1a1a1a" stroke-width="1.5" />
<line x1="59.25" y1="437.50" x2="249.60" y2="437.50" stroke="#1a1a1a" stroke-width="1.5" />
<line x1="57.00" y1="437.50" x2="60.00" y2="437.50" stroke="#231f20" stroke-width="1.0" />
<text x="53.80" y="440.50" font-size="8.4" text-anchor="end" fill="#231f20" stroke="#231f20" stroke-width="0.22" textLength="4.12" lengthAdjust="spacingAndGlyphs" >0</text>
<line x1="57.00" y1="411.40" x2="60.00" y2="411.40" stroke="#231f20" stroke-width="1.0" />
<text x="53.80" y="414.40" font-size="8.4" text-anchor="end" fill="#231f20" stroke="#231f20" stroke-width="0.22" textLength="12.36" lengthAdjust="spacingAndGlyphs" >500</text>
<line x1="57.00" y1="385.30" x2="60.00" y2="385.30" stroke="#231f20" stroke-width="1.0" />
<text x="53.80" y="388.30" font-size="8.4" text-anchor="end" fill="#231f20" stroke="#231f20" stroke-width="0.22" textLength="16.48" lengthAdjust="spacingAndGlyphs" >1000</text>
<line x1="57.00" y1="359.20" x2="60.00" y2="359.20" stroke="#231f20" stroke-width="1.0" />
<text x="53.80" y="362.20" font-size="8.4" text-anchor="end" fill="#231f20" stroke="#231f20" stroke-width="0.22" textLength="16.48" lengthAdjust="spacingAndGlyphs" >1500</text>
<line x1="57.00" y1="333.10" x2="60.00" y2="333.10" stroke="#231f20" stroke-width="1.0" />
<text x="53.80" y="336.10" font-size="8.4" text-anchor="end" fill="#231f20" stroke="#231f20" stroke-width="0.22" textLength="16.48" lengthAdjust="spacingAndGlyphs" >2000</text>
<line x1="57.00" y1="307.00" x2="60.00" y2="307.00" stroke="#231f20" stroke-width="1.0" />
<text x="53.80" y="310.00" font-size="8.4" text-anchor="end" fill="#231f20" stroke="#231f20" stroke-width="0.22" textLength="16.48" lengthAdjust="spacingAndGlyphs" >2500</text>
<text x="27.40" y="376.30" font-size="9.4" text-anchor="middle" fill="#231f20" stroke="#231f20" stroke-width="0.22" textLength="78.30" lengthAdjust="spacingAndGlyphs" transform="rotate(-90 27.40 376.30)" >JON/A MFI (± SEM)</text>
<line x1="83.80" y1="437.50" x2="83.80" y2="440.50" stroke="#231f20" stroke-width="1.0" />
<text x="83.80" y="451.30" font-size="8.8" text-anchor="middle" fill="#231f20" stroke="#231f20" stroke-width="0.22" textLength="14.00" lengthAdjust="spacingAndGlyphs" >D10</text>
<line x1="67.50" y1="428.50" x2="67.50" y2="424.20" stroke="#c6007e" stroke-width="1.15" />
<line x1="64.90" y1="424.20" x2="70.10" y2="424.20" stroke="#c6007e" stroke-width="1.25" />
<rect x="63.10" y="428.90" width="9.30" height="8.60" fill="#c6007e" stroke="#9e0064" stroke-width="0.8"/>
<line x1="78.50" y1="426.00" x2="78.50" y2="421.30" stroke="#6aaee2" stroke-width="1.15" />
<line x1="75.90" y1="421.30" x2="81.10" y2="421.30" stroke="#6aaee2" stroke-width="1.25" />
<rect x="73.80" y="426.40" width="9.30" height="11.10" fill="#6aaee2" stroke="#548bb4" stroke-width="0.8"/>
<line x1="89.50" y1="353.80" x2="89.50" y2="345.40" stroke="#a5002f" stroke-width="1.15" />
<line x1="86.90" y1="345.40" x2="92.10" y2="345.40" stroke="#a5002f" stroke-width="1.25" />
<rect x="84.60" y="354.20" width="9.30" height="83.30" fill="#a5002f" stroke="#840025" stroke-width="0.8"/>
<line x1="99.50" y1="355.80" x2="99.50" y2="349.00" stroke="#2d4c86" stroke-width="1.15" />
<line x1="96.90" y1="349.00" x2="102.10" y2="349.00" stroke="#2d4c86" stroke-width="1.25" />
<rect x="95.30" y="356.20" width="9.30" height="81.30" fill="#2d4c86" stroke="#243c6b" stroke-width="0.8"/>
<line x1="131.53" y1="437.50" x2="131.53" y2="440.50" stroke="#231f20" stroke-width="1.0" />
<text x="131.53" y="451.30" font-size="8.8" text-anchor="middle" fill="#231f20" stroke="#231f20" stroke-width="0.22" textLength="14.00" lengthAdjust="spacingAndGlyphs" >D14</text>
<line x1="115.50" y1="428.50" x2="115.50" y2="423.70" stroke="#c6007e" stroke-width="1.15" />
<line x1="112.90" y1="423.70" x2="118.10" y2="423.70" stroke="#c6007e" stroke-width="1.25" />
<rect x="110.83" y="428.90" width="9.30" height="8.60" fill="#c6007e" stroke="#9e0064" stroke-width="0.8"/>
<line x1="126.50" y1="425.00" x2="126.50" y2="420.40" stroke="#6aaee2" stroke-width="1.15" />
<line x1="123.90" y1="420.40" x2="129.10" y2="420.40" stroke="#6aaee2" stroke-width="1.25" />
<rect x="121.53" y="425.40" width="9.30" height="12.10" fill="#6aaee2" stroke="#548bb4" stroke-width="0.8"/>
<line x1="136.50" y1="358.80" x2="136.50" y2="348.30" stroke="#a5002f" stroke-width="1.15" />
<line x1="133.90" y1="348.30" x2="139.10" y2="348.30" stroke="#a5002f" stroke-width="1.25" />
<rect x="132.33" y="359.20" width="9.30" height="78.30" fill="#a5002f" stroke="#840025" stroke-width="0.8"/>
<line x1="147.50" y1="355.80" x2="147.50" y2="343.30" stroke="#2d4c86" stroke-width="1.15" />
<line x1="144.90" y1="343.30" x2="150.10" y2="343.30" stroke="#2d4c86" stroke-width="1.25" />
<rect x="143.03" y="356.20" width="9.30" height="81.30" fill="#2d4c86" stroke="#243c6b" stroke-width="0.8"/>
<line x1="179.26" y1="437.50" x2="179.26" y2="440.50" stroke="#231f20" stroke-width="1.0" />
<text x="179.26" y="451.30" font-size="8.8" text-anchor="middle" fill="#231f20" stroke="#231f20" stroke-width="0.22" textLength="14.00" lengthAdjust="spacingAndGlyphs" >D28</text>
<line x1="163.50" y1="425.00" x2="163.50" y2="420.10" stroke="#c6007e" stroke-width="1.15" />
<line x1="160.90" y1="420.10" x2="166.10" y2="420.10" stroke="#c6007e" stroke-width="1.25" />
<rect x="158.56" y="425.40" width="9.30" height="12.10" fill="#c6007e" stroke="#9e0064" stroke-width="0.8"/>
<line x1="173.50" y1="420.70" x2="173.50" y2="418.30" stroke="#6aaee2" stroke-width="1.15" />
<line x1="170.90" y1="418.30" x2="176.10" y2="418.30" stroke="#6aaee2" stroke-width="1.25" />
<rect x="169.26" y="421.10" width="9.30" height="16.40" fill="#6aaee2" stroke="#548bb4" stroke-width="0.8"/>
<line x1="184.50" y1="353.00" x2="184.50" y2="349.00" stroke="#a5002f" stroke-width="1.15" />
<line x1="181.90" y1="349.00" x2="187.10" y2="349.00" stroke="#a5002f" stroke-width="1.25" />
<rect x="180.06" y="353.40" width="9.30" height="84.10" fill="#a5002f" stroke="#840025" stroke-width="0.8"/>
<line x1="195.50" y1="355.00" x2="195.50" y2="350.60" stroke="#2d4c86" stroke-width="1.15" />
<line x1="192.90" y1="350.60" x2="198.10" y2="350.60" stroke="#2d4c86" stroke-width="1.25" />
<rect x="190.76" y="355.40" width="9.30" height="82.10" fill="#2d4c86" stroke="#243c6b" stroke-width="0.8"/>
<line x1="226.99" y1="437.50" x2="226.99" y2="440.50" stroke="#231f20" stroke-width="1.0" />
<text x="226.99" y="451.30" font-size="8.8" text-anchor="middle" fill="#231f20" stroke="#231f20" stroke-width="0.22" textLength="14.00" lengthAdjust="spacingAndGlyphs" >D42</text>
<line x1="210.50" y1="425.00" x2="210.50" y2="420.70" stroke="#c6007e" stroke-width="1.15" />
<line x1="207.90" y1="420.70" x2="213.10" y2="420.70" stroke="#c6007e" stroke-width="1.25" />
<rect x="206.29" y="425.40" width="9.30" height="12.10" fill="#c6007e" stroke="#9e0064" stroke-width="0.8"/>
<line x1="221.50" y1="420.10" x2="221.50" y2="417.50" stroke="#6aaee2" stroke-width="1.15" />
<line x1="218.90" y1="417.50" x2="224.10" y2="417.50" stroke="#6aaee2" stroke-width="1.25" />
<rect x="216.99" y="420.50" width="9.30" height="17.00" fill="#6aaee2" stroke="#548bb4" stroke-width="0.8"/>
<line x1="232.50" y1="342.60" x2="232.50" y2="329.00" stroke="#a5002f" stroke-width="1.15" />
<line x1="229.90" y1="329.00" x2="235.10" y2="329.00" stroke="#a5002f" stroke-width="1.25" />
<rect x="227.79" y="343.00" width="9.30" height="94.50" fill="#a5002f" stroke="#840025" stroke-width="0.8"/>
<line x1="243.50" y1="334.60" x2="243.50" y2="324.50" stroke="#2d4c86" stroke-width="1.15" />
<line x1="240.90" y1="324.50" x2="246.10" y2="324.50" stroke="#2d4c86" stroke-width="1.25" />
<rect x="238.49" y="335.00" width="9.30" height="102.50" fill="#2d4c86" stroke="#243c6b" stroke-width="0.8"/>
<text x="155.39" y="464.50" font-size="10" text-anchor="middle" fill="#231f20" stroke="#231f20" stroke-width="0.22" textLength="85.50" lengthAdjust="spacingAndGlyphs" >Days post transplant</text>
<rect x="78.00" y="303.60" width="9.70" height="10.00" fill="#c6007e"/>
<text x="90.80" y="311.20" font-size="8.2" text-anchor="start" fill="#231f20" stroke="#231f20" stroke-width="0.22" textLength="40.90" lengthAdjust="spacingAndGlyphs" >FL untreated</text>
<rect x="78.00" y="317.00" width="9.70" height="10.00" fill="#6aaee2"/>
<text x="90.80" y="324.60" font-size="8.2" text-anchor="start" fill="#231f20" stroke="#231f20" stroke-width="0.22" textLength="44.40" lengthAdjust="spacingAndGlyphs" >BM untreated</text>
<rect x="146.50" y="303.40" width="9.50" height="10.00" fill="#a5002f"/>
<text x="159.40" y="311.00" font-size="8.2" text-anchor="start" fill="#231f20" stroke="#231f20" stroke-width="0.22" textLength="46.60" lengthAdjust="spacingAndGlyphs" >FL + Thrombin</text>
<rect x="146.50" y="316.80" width="9.50" height="10.00" fill="#2d4c86"/>
<text x="159.40" y="324.40" font-size="8.2" text-anchor="start" fill="#231f20" stroke="#231f20" stroke-width="0.22" textLength="49.80" lengthAdjust="spacingAndGlyphs" >BM + Thrombin</text>
<text x="271.30" y="296.60" font-size="11.2" text-anchor="start" fill="#231f20" stroke="#231f20" stroke-width="0.22" textLength="5.60" lengthAdjust="spacingAndGlyphs" >E</text>
<line x1="322.60" y1="305.20" x2="322.60" y2="438.95" stroke="#1a1a1a" stroke-width="1.5" />
<line x1="321.85" y1="438.20" x2="512.00" y2="438.20" stroke="#1a1a1a" stroke-width="1.5" />
<line x1="319.60" y1="438.20" x2="322.60" y2="438.20" stroke="#231f20" stroke-width="1.0" />
<text x="316.70" y="441.20" font-size="8.4" text-anchor="end" fill="#231f20" stroke="#231f20" stroke-width="0.22" textLength="4.12" lengthAdjust="spacingAndGlyphs" >0</text>
<line x1="319.60" y1="405.75" x2="322.60" y2="405.75" stroke="#231f20" stroke-width="1.0" />
<text x="316.70" y="408.75" font-size="8.4" text-anchor="end" fill="#231f20" stroke="#231f20" stroke-width="0.22" textLength="12.36" lengthAdjust="spacingAndGlyphs" >200</text>
<line x1="319.60" y1="373.30" x2="322.60" y2="373.30" stroke="#231f20" stroke-width="1.0" />
<text x="316.70" y="376.30" font-size="8.4" text-anchor="end" fill="#231f20" stroke="#231f20" stroke-width="0.22" textLength="12.36" lengthAdjust="spacingAndGlyphs" >400</text>
<line x1="319.60" y1="340.85" x2="322.60" y2="340.85" stroke="#231f20" stroke-width="1.0" />
<text x="316.70" y="343.85" font-size="8.4" text-anchor="end" fill="#231f20" stroke="#231f20" stroke-width="0.22" textLength="12.36" lengthAdjust="spacingAndGlyphs" >600</text>
<line x1="319.60" y1="308.40" x2="322.60" y2="308.40" stroke="#231f20" stroke-width="1.0" />
<text x="316.70" y="311.40" font-size="8.4" text-anchor="end" fill="#231f20" stroke="#231f20" stroke-width="0.22" textLength="12.36" lengthAdjust="spacingAndGlyphs" >800</text>
<text x="290.10" y="371.40" font-size="9.4" text-anchor="middle" fill="#231f20" stroke="#231f20" stroke-width="0.22" textLength="80.20" lengthAdjust="spacingAndGlyphs" transform="rotate(-90 290.10 371.40)" >CD62P MFI (± SEM)</text>
<line x1="346.40" y1="438.20" x2="346.40" y2="441.20" stroke="#231f20" stroke-width="1.0" />
<text x="346.40" y="451.80" font-size="8.8" text-anchor="middle" fill="#231f20" stroke="#231f20" stroke-width="0.22" textLength="14.00" lengthAdjust="spacingAndGlyphs" >D10</text>
<rect x="325.70" y="437.30" width="9.30" height="0.90" fill="#c6007e" stroke="#9e0064" stroke-width="0.8"/>
<rect x="336.40" y="437.60" width="9.30" height="0.60" fill="#6aaee2" stroke="#548bb4" stroke-width="0.8"/>
<line x1="351.50" y1="409.10" x2="351.50" y2="405.60" stroke="#a5002f" stroke-width="1.15" />
<line x1="348.90" y1="405.60" x2="354.10" y2="405.60" stroke="#a5002f" stroke-width="1.25" />
<rect x="347.20" y="409.50" width="9.30" height="28.70" fill="#a5002f" stroke="#840025" stroke-width="0.8"/>
<line x1="362.50" y1="329.70" x2="362.50" y2="327.50" stroke="#2d4c86" stroke-width="1.15" />
<line x1="359.90" y1="327.50" x2="365.10" y2="327.50" stroke="#2d4c86" stroke-width="1.25" />
<rect x="357.90" y="330.10" width="9.30" height="108.10" fill="#2d4c86" stroke="#243c6b" stroke-width="0.8"/>
<line x1="394.00" y1="438.20" x2="394.00" y2="441.20" stroke="#231f20" stroke-width="1.0" />
<text x="394.00" y="451.80" font-size="8.8" text-anchor="middle" fill="#231f20" stroke="#231f20" stroke-width="0.22" textLength="14.00" lengthAdjust="spacingAndGlyphs" >D14</text>
<rect x="373.30" y="437.30" width="9.30" height="0.90" fill="#c6007e" stroke="#9e0064" stroke-width="0.8"/>
<rect x="384.00" y="437.60" width="9.30" height="0.60" fill="#6aaee2" stroke="#548bb4" stroke-width="0.8"/>
<line x1="399.50" y1="383.70" x2="399.50" y2="378.30" stroke="#a5002f" stroke-width="1.15" />
<line x1="396.90" y1="378.30" x2="402.10" y2="378.30" stroke="#a5002f" stroke-width="1.25" />
<rect x="394.80" y="384.10" width="9.30" height="54.10" fill="#a5002f" stroke="#840025" stroke-width="0.8"/>
<line x1="410.50" y1="333.20" x2="410.50" y2="331.10" stroke="#2d4c86" stroke-width="1.15" />
<line x1="407.90" y1="331.10" x2="413.10" y2="331.10" stroke="#2d4c86" stroke-width="1.25" />
<rect x="405.50" y="333.60" width="9.30" height="104.60" fill="#2d4c86" stroke="#243c6b" stroke-width="0.8"/>
<line x1="441.60" y1="438.20" x2="441.60" y2="441.20" stroke="#231f20" stroke-width="1.0" />
<text x="441.60" y="451.80" font-size="8.8" text-anchor="middle" fill="#231f20" stroke="#231f20" stroke-width="0.22" textLength="14.00" lengthAdjust="spacingAndGlyphs" >D28</text>
<rect x="420.90" y="437.30" width="9.30" height="0.90" fill="#c6007e" stroke="#9e0064" stroke-width="0.8"/>
<rect x="431.60" y="437.60" width="9.30" height="0.60" fill="#6aaee2" stroke="#548bb4" stroke-width="0.8"/>
<line x1="447.50" y1="340.00" x2="447.50" y2="335.30" stroke="#a5002f" stroke-width="1.15" />
<line x1="444.90" y1="335.30" x2="450.10" y2="335.30" stroke="#a5002f" stroke-width="1.25" />
<rect x="442.40" y="340.40" width="9.30" height="97.80" fill="#a5002f" stroke="#840025" stroke-width="0.8"/>
<line x1="457.50" y1="332.70" x2="457.50" y2="329.50" stroke="#2d4c86" stroke-width="1.15" />
<line x1="454.90" y1="329.50" x2="460.10" y2="329.50" stroke="#2d4c86" stroke-width="1.25" />
<rect x="453.10" y="333.10" width="9.30" height="105.10" fill="#2d4c86" stroke="#243c6b" stroke-width="0.8"/>
<line x1="489.20" y1="438.20" x2="489.20" y2="441.20" stroke="#231f20" stroke-width="1.0" />
<text x="489.20" y="451.80" font-size="8.8" text-anchor="middle" fill="#231f20" stroke="#231f20" stroke-width="0.22" textLength="14.00" lengthAdjust="spacingAndGlyphs" >D42</text>
<rect x="468.50" y="437.30" width="9.30" height="0.90" fill="#c6007e" stroke="#9e0064" stroke-width="0.8"/>
<rect x="479.20" y="437.60" width="9.30" height="0.60" fill="#6aaee2" stroke="#548bb4" stroke-width="0.8"/>
<line x1="494.50" y1="340.00" x2="494.50" y2="334.60" stroke="#a5002f" stroke-width="1.15" />
<line x1="491.90" y1="334.60" x2="497.10" y2="334.60" stroke="#a5002f" stroke-width="1.25" />
<rect x="490.00" y="340.40" width="9.30" height="97.80" fill="#a5002f" stroke="#840025" stroke-width="0.8"/>
<line x1="505.50" y1="330.60" x2="505.50" y2="327.60" stroke="#2d4c86" stroke-width="1.15" />
<line x1="502.90" y1="327.60" x2="508.10" y2="327.60" stroke="#2d4c86" stroke-width="1.25" />
<rect x="500.70" y="331.00" width="9.30" height="107.20" fill="#2d4c86" stroke="#243c6b" stroke-width="0.8"/>
<text x="417.80" y="465.80" font-size="10" text-anchor="middle" fill="#231f20" stroke="#231f20" stroke-width="0.22" textLength="85.50" lengthAdjust="spacingAndGlyphs" >Days post transplant</text>
<line x1="350.00" y1="322.10" x2="362.00" y2="322.10" stroke="#444" stroke-width="1.5" />
<circle cx="356.00" cy="317.70" r="1.3" fill="#333"/>
<line x1="396.40" y1="325.80" x2="410.20" y2="325.80" stroke="#444" stroke-width="1.5" />
<circle cx="403.30" cy="321.00" r="1.3" fill="#333"/>
<text x="9.00" y="474.00" font-size="11.2" text-anchor="start" fill="#231f20" stroke="#231f20" stroke-width="0.22" textLength="5.40" lengthAdjust="spacingAndGlyphs" >F</text>
<line x1="60.00" y1="480.50" x2="60.00" y2="603.15" stroke="#1a1a1a" stroke-width="1.5" />
<line x1="59.25" y1="602.40" x2="249.80" y2="602.40" stroke="#1a1a1a" stroke-width="1.5" />
<line x1="57.00" y1="602.40" x2="60.00" y2="602.40" stroke="#231f20" stroke-width="1.0" />
<text x="53.80" y="605.40" font-size="8.4" text-anchor="end" fill="#231f20" stroke="#231f20" stroke-width="0.22" textLength="4.12" lengthAdjust="spacingAndGlyphs" >0</text>
<line x1="57.00" y1="569.90" x2="60.00" y2="569.90" stroke="#231f20" stroke-width="1.0" />
<text x="53.80" y="572.90" font-size="8.4" text-anchor="end" fill="#231f20" stroke="#231f20" stroke-width="0.22" textLength="12.36" lengthAdjust="spacingAndGlyphs" >500</text>
<line x1="57.00" y1="537.40" x2="60.00" y2="537.40" stroke="#231f20" stroke-width="1.0" />
<text x="53.80" y="540.40" font-size="8.4" text-anchor="end" fill="#231f20" stroke="#231f20" stroke-width="0.22" textLength="16.48" lengthAdjust="spacingAndGlyphs" >1000</text>
<line x1="57.00" y1="504.90" x2="60.00" y2="504.90" stroke="#231f20" stroke-width="1.0" />
<text x="53.80" y="507.90" font-size="8.4" text-anchor="end" fill="#231f20" stroke="#231f20" stroke-width="0.22" textLength="16.48" lengthAdjust="spacingAndGlyphs" >1500</text>
<text x="27.10" y="541.00" font-size="9.4" text-anchor="middle" fill="#231f20" stroke="#231f20" stroke-width="0.22" textLength="78.50" lengthAdjust="spacingAndGlyphs" transform="rotate(-90 27.10 541.00)" >JON/A MFI (± SEM)</text>
<line x1="83.75" y1="602.40" x2="83.75" y2="605.40" stroke="#231f20" stroke-width="1.0" />
<text x="83.75" y="616.50" font-size="8.8" text-anchor="middle" fill="#231f20" stroke="#231f20" stroke-width="0.22" textLength="14.00" lengthAdjust="spacingAndGlyphs" >D10</text>
<rect x="63.05" y="598.70" width="9.30" height="3.70" fill="#c6007e" stroke="#9e0064" stroke-width="0.8"/>
<rect x="73.75" y="598.70" width="9.30" height="3.70" fill="#6aaee2" stroke="#548bb4" stroke-width="0.8"/>
<line x1="89.50" y1="526.80" x2="89.50" y2="523.80" stroke="#a5002f" stroke-width="1.15" />
<line x1="86.90" y1="523.80" x2="92.10" y2="523.80" stroke="#a5002f" stroke-width="1.25" />
<rect x="84.55" y="527.20" width="9.30" height="75.20" fill="#a5002f" stroke="#840025" stroke-width="0.8"/>
<line x1="99.50" y1="523.00" x2="99.50" y2="521.20" stroke="#2d4c86" stroke-width="1.15" />
<line x1="96.90" y1="521.20" x2="102.10" y2="521.20" stroke="#2d4c86" stroke-width="1.25" />
<rect x="95.25" y="523.40" width="9.30" height="79.00" fill="#2d4c86" stroke="#243c6b" stroke-width="0.8"/>
<line x1="131.50" y1="602.40" x2="131.50" y2="605.40" stroke="#231f20" stroke-width="1.0" />
<text x="131.50" y="616.50" font-size="8.8" text-anchor="middle" fill="#231f20" stroke="#231f20" stroke-width="0.22" textLength="14.00" lengthAdjust="spacingAndGlyphs" >D14</text>
<rect x="110.80" y="598.90" width="9.30" height="3.50" fill="#c6007e" stroke="#9e0064" stroke-width="0.8"/>
<rect x="121.50" y="598.90" width="9.30" height="3.50" fill="#6aaee2" stroke="#548bb4" stroke-width="0.8"/>
<line x1="136.50" y1="523.10" x2="136.50" y2="515.40" stroke="#a5002f" stroke-width="1.15" />
<line x1="133.90" y1="515.40" x2="139.10" y2="515.40" stroke="#a5002f" stroke-width="1.25" />
<rect x="132.30" y="523.50" width="9.30" height="78.90" fill="#a5002f" stroke="#840025" stroke-width="0.8"/>
<line x1="147.50" y1="519.00" x2="147.50" y2="511.40" stroke="#2d4c86" stroke-width="1.15" />
<line x1="144.90" y1="511.40" x2="150.10" y2="511.40" stroke="#2d4c86" stroke-width="1.25" />
<rect x="143.00" y="519.40" width="9.30" height="83.00" fill="#2d4c86" stroke="#243c6b" stroke-width="0.8"/>
<line x1="179.25" y1="602.40" x2="179.25" y2="605.40" stroke="#231f20" stroke-width="1.0" />
<text x="179.25" y="616.50" font-size="8.8" text-anchor="middle" fill="#231f20" stroke="#231f20" stroke-width="0.22" textLength="14.00" lengthAdjust="spacingAndGlyphs" >D28</text>
<rect x="158.55" y="599.40" width="9.30" height="3.00" fill="#c6007e" stroke="#9e0064" stroke-width="0.8"/>
<rect x="169.25" y="599.40" width="9.30" height="3.00" fill="#6aaee2" stroke="#548bb4" stroke-width="0.8"/>
<line x1="184.50" y1="511.70" x2="184.50" y2="500.60" stroke="#a5002f" stroke-width="1.15" />
<line x1="181.90" y1="500.60" x2="187.10" y2="500.60" stroke="#a5002f" stroke-width="1.25" />
<rect x="180.05" y="512.10" width="9.30" height="90.30" fill="#a5002f" stroke="#840025" stroke-width="0.8"/>
<line x1="195.50" y1="520.60" x2="195.50" y2="510.80" stroke="#2d4c86" stroke-width="1.15" />
<line x1="192.90" y1="510.80" x2="198.10" y2="510.80" stroke="#2d4c86" stroke-width="1.25" />
<rect x="190.75" y="521.00" width="9.30" height="81.40" fill="#2d4c86" stroke="#243c6b" stroke-width="0.8"/>
<line x1="227.00" y1="602.40" x2="227.00" y2="605.40" stroke="#231f20" stroke-width="1.0" />
<text x="227.00" y="616.50" font-size="8.8" text-anchor="middle" fill="#231f20" stroke="#231f20" stroke-width="0.22" textLength="14.00" lengthAdjust="spacingAndGlyphs" >D42</text>
<rect x="206.30" y="598.90" width="9.30" height="3.50" fill="#c6007e" stroke="#9e0064" stroke-width="0.8"/>
<rect x="217.00" y="599.20" width="9.30" height="3.20" fill="#6aaee2" stroke="#548bb4" stroke-width="0.8"/>
<line x1="232.50" y1="496.00" x2="232.50" y2="492.30" stroke="#a5002f" stroke-width="1.15" />
<line x1="229.90" y1="492.30" x2="235.10" y2="492.30" stroke="#a5002f" stroke-width="1.25" />
<rect x="227.80" y="496.40" width="9.30" height="106.00" fill="#a5002f" stroke="#840025" stroke-width="0.8"/>
<line x1="243.50" y1="500.00" x2="243.50" y2="490.80" stroke="#2d4c86" stroke-width="1.15" />
<line x1="240.90" y1="490.80" x2="246.10" y2="490.80" stroke="#2d4c86" stroke-width="1.25" />
<rect x="238.50" y="500.40" width="9.30" height="102.00" fill="#2d4c86" stroke="#243c6b" stroke-width="0.8"/>
<text x="155.38" y="630.30" font-size="10" text-anchor="middle" fill="#231f20" stroke="#231f20" stroke-width="0.22" textLength="85.50" lengthAdjust="spacingAndGlyphs" >Days post transplant</text>
<text x="269.60" y="474.30" font-size="11.2" text-anchor="start" fill="#231f20" stroke="#231f20" stroke-width="0.22" textLength="8.20" lengthAdjust="spacingAndGlyphs" >G</text>
<line x1="318.00" y1="480.50" x2="318.00" y2="603.15" stroke="#1a1a1a" stroke-width="1.5" />
<line x1="317.25" y1="602.40" x2="507.00" y2="602.40" stroke="#1a1a1a" stroke-width="1.5" />
<line x1="315.00" y1="602.40" x2="318.00" y2="602.40" stroke="#231f20" stroke-width="1.0" />
<text x="311.30" y="605.40" font-size="8.4" text-anchor="end" fill="#231f20" stroke="#231f20" stroke-width="0.22" textLength="4.12" lengthAdjust="spacingAndGlyphs" >0</text>
<line x1="315.00" y1="569.90" x2="318.00" y2="569.90" stroke="#231f20" stroke-width="1.0" />
<text x="311.30" y="572.90" font-size="8.4" text-anchor="end" fill="#231f20" stroke="#231f20" stroke-width="0.22" textLength="12.36" lengthAdjust="spacingAndGlyphs" >200</text>
<line x1="315.00" y1="537.40" x2="318.00" y2="537.40" stroke="#231f20" stroke-width="1.0" />
<text x="311.30" y="540.40" font-size="8.4" text-anchor="end" fill="#231f20" stroke="#231f20" stroke-width="0.22" textLength="12.36" lengthAdjust="spacingAndGlyphs" >400</text>
<line x1="315.00" y1="504.90" x2="318.00" y2="504.90" stroke="#231f20" stroke-width="1.0" />
<text x="311.30" y="507.90" font-size="8.4" text-anchor="end" fill="#231f20" stroke="#231f20" stroke-width="0.22" textLength="12.36" lengthAdjust="spacingAndGlyphs" >600</text>
<text x="290.20" y="541.20" font-size="9.4" text-anchor="middle" fill="#231f20" stroke="#231f20" stroke-width="0.22" textLength="80.00" lengthAdjust="spacingAndGlyphs" transform="rotate(-90 290.20 541.20)" >CD62P MFI (± SEM)</text>
<line x1="341.75" y1="602.40" x2="341.75" y2="605.40" stroke="#231f20" stroke-width="1.0" />
<text x="341.75" y="616.50" font-size="8.8" text-anchor="middle" fill="#231f20" stroke="#231f20" stroke-width="0.22" textLength="14.00" lengthAdjust="spacingAndGlyphs" >D10</text>
<rect x="321.05" y="601.90" width="9.30" height="0.50" fill="#c6007e" stroke="#9e0064" stroke-width="0.8"/>
<rect x="331.75" y="602.20" width="9.30" height="0.20" fill="#6aaee2" stroke="#548bb4" stroke-width="0.8"/>
<line x1="347.50" y1="508.80" x2="347.50" y2="504.50" stroke="#a5002f" stroke-width="1.15" />
<line x1="344.90" y1="504.50" x2="350.10" y2="504.50" stroke="#a5002f" stroke-width="1.25" />
<rect x="342.55" y="509.20" width="9.30" height="93.20" fill="#a5002f" stroke="#840025" stroke-width="0.8"/>
<line x1="357.50" y1="508.30" x2="357.50" y2="506.80" stroke="#2d4c86" stroke-width="1.15" />
<line x1="354.90" y1="506.80" x2="360.10" y2="506.80" stroke="#2d4c86" stroke-width="1.25" />
<rect x="353.25" y="508.70" width="9.30" height="93.70" fill="#2d4c86" stroke="#243c6b" stroke-width="0.8"/>
<line x1="389.37" y1="602.40" x2="389.37" y2="605.40" stroke="#231f20" stroke-width="1.0" />
<text x="389.37" y="616.50" font-size="8.8" text-anchor="middle" fill="#231f20" stroke="#231f20" stroke-width="0.22" textLength="14.00" lengthAdjust="spacingAndGlyphs" >D14</text>
<rect x="368.67" y="601.90" width="9.30" height="0.50" fill="#c6007e" stroke="#9e0064" stroke-width="0.8"/>
<rect x="379.37" y="602.20" width="9.30" height="0.20" fill="#6aaee2" stroke="#548bb4" stroke-width="0.8"/>
<line x1="394.50" y1="503.70" x2="394.50" y2="500.00" stroke="#a5002f" stroke-width="1.15" />
<line x1="391.90" y1="500.00" x2="397.10" y2="500.00" stroke="#a5002f" stroke-width="1.25" />
<rect x="390.17" y="504.10" width="9.30" height="98.30" fill="#a5002f" stroke="#840025" stroke-width="0.8"/>
<line x1="405.50" y1="505.50" x2="405.50" y2="502.50" stroke="#2d4c86" stroke-width="1.15" />
<line x1="402.90" y1="502.50" x2="408.10" y2="502.50" stroke="#2d4c86" stroke-width="1.25" />
<rect x="400.87" y="505.90" width="9.30" height="96.50" fill="#2d4c86" stroke="#243c6b" stroke-width="0.8"/>
<line x1="436.99" y1="602.40" x2="436.99" y2="605.40" stroke="#231f20" stroke-width="1.0" />
<text x="436.99" y="616.50" font-size="8.8" text-anchor="middle" fill="#231f20" stroke="#231f20" stroke-width="0.22" textLength="14.00" lengthAdjust="spacingAndGlyphs" >D28</text>
<rect x="416.29" y="601.90" width="9.30" height="0.50" fill="#c6007e" stroke="#9e0064" stroke-width="0.8"/>
<rect x="426.99" y="602.20" width="9.30" height="0.20" fill="#6aaee2" stroke="#548bb4" stroke-width="0.8"/>
<line x1="442.50" y1="495.40" x2="442.50" y2="493.00" stroke="#a5002f" stroke-width="1.15" />
<line x1="439.90" y1="493.00" x2="445.10" y2="493.00" stroke="#a5002f" stroke-width="1.25" />
<rect x="437.79" y="495.80" width="9.30" height="106.60" fill="#a5002f" stroke="#840025" stroke-width="0.8"/>
<line x1="453.50" y1="495.40" x2="453.50" y2="493.80" stroke="#2d4c86" stroke-width="1.15" />
<line x1="450.90" y1="493.80" x2="456.10" y2="493.80" stroke="#2d4c86" stroke-width="1.25" />
<rect x="448.49" y="495.80" width="9.30" height="106.60" fill="#2d4c86" stroke="#243c6b" stroke-width="0.8"/>
<line x1="484.61" y1="602.40" x2="484.61" y2="605.40" stroke="#231f20" stroke-width="1.0" />
<text x="484.61" y="616.50" font-size="8.8" text-anchor="middle" fill="#231f20" stroke="#231f20" stroke-width="0.22" textLength="14.00" lengthAdjust="spacingAndGlyphs" >D42</text>
<rect x="463.91" y="601.90" width="9.30" height="0.50" fill="#c6007e" stroke="#9e0064" stroke-width="0.8"/>
<rect x="474.61" y="602.20" width="9.30" height="0.20" fill="#6aaee2" stroke="#548bb4" stroke-width="0.8"/>
<line x1="490.50" y1="494.80" x2="490.50" y2="491.40" stroke="#a5002f" stroke-width="1.15" />
<line x1="487.90" y1="491.40" x2="493.10" y2="491.40" stroke="#a5002f" stroke-width="1.25" />
<rect x="485.41" y="495.20" width="9.30" height="107.20" fill="#a5002f" stroke="#840025" stroke-width="0.8"/>
<line x1="500.50" y1="497.00" x2="500.50" y2="493.80" stroke="#2d4c86" stroke-width="1.15" />
<line x1="497.90" y1="493.80" x2="503.10" y2="493.80" stroke="#2d4c86" stroke-width="1.25" />
<rect x="496.11" y="497.40" width="9.30" height="105.00" fill="#2d4c86" stroke="#243c6b" stroke-width="0.8"/>
<text x="413.18" y="630.30" font-size="10" text-anchor="middle" fill="#231f20" stroke="#231f20" stroke-width="0.22" textLength="85.50" lengthAdjust="spacingAndGlyphs" >Days post transplant</text>
<rect x="0.00" y="0.00" width="520.00" height="1.20" fill="#000"/>
<rect x="0.00" y="0.00" width="1.20" height="640.00" fill="#000"/>
<rect x="518.30" y="0.00" width="1.70" height="640.00" fill="#000"/>
<rect x="0.00" y="638.20" width="520.00" height="1.80" fill="#000"/>
</g>
</svg></body></html>
